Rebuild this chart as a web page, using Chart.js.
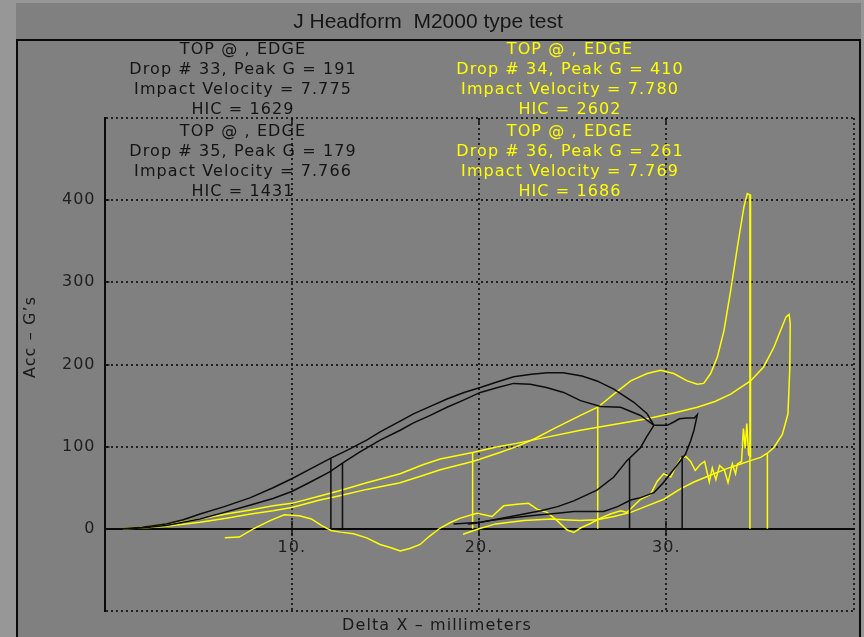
<!DOCTYPE html>
<html>
<head>
<meta charset="utf-8">
<script src="https://cdn.jsdelivr.net/npm/chart.js@4.4.1/dist/chart.umd.min.js"></script>
<style>
  html, body { margin: 0; padding: 0; background: #979797; }
  #wrap { width: 864px; height: 637px; }
</style>
</head>
<body>
<div id="wrap"><canvas id="c" width="864" height="637"></canvas></div>
<script>
// ---------- Text ----------
const chartTitle = 'J Headform  M2000 type test';
const xAxisTitle = 'Delta X – millimeters';
const yAxisTitle = 'Acc – G\u2019s';
const drop33Text = ['TOP @ , EDGE', 'Drop # 33, Peak G = 191', 'Impact Velocity = 7.775', 'HIC = 1629'];
const drop34Text = ['TOP @ , EDGE', 'Drop # 34, Peak G = 410', 'Impact Velocity = 7.780', 'HIC = 2602'];
const drop35Text = ['TOP @ , EDGE', 'Drop # 35, Peak G = 179', 'Impact Velocity = 7.766', 'HIC = 1431'];
const drop36Text = ['TOP @ , EDGE', 'Drop # 36, Peak G = 261', 'Impact Velocity = 7.769', 'HIC = 1686'];

// ---------- Tick labels ----------
const xTickValues = [10, 20, 30];
const xTickLabels = ['10.', '20.', '30.'];
const yTickValues = [0, 100, 200, 300, 400];
const yTickLabels = ['0', '100', '200', '300', '400'];

// ---------- Drop 33 (black, peak 191) ----------
const drop33X = [1.0, 2.0, 3.3, 4.2, 5.1, 6.4, 7.8, 9.0, 10.0, 11.0, 12.09, 13.0, 14.0, 14.72, 15.79, 16.5, 17.4, 18.29, 19.2, 20.07, 21.0, 21.85, 22.8, 23.64, 24.5, 25.5, 26.3, 27.2, 28.27, 28.98, 29.34,
                 28.95, 28.63, 27.9, 27.2, 26.3, 25.06, 24.2, 23.3, 22.4, 21.5, 20.07, 18.64];
const drop33Y = [0, 2, 6, 11, 18, 27, 38, 50, 61, 73, 86, 96, 108, 118, 131, 140, 149, 158, 166, 172, 179, 185, 188, 190, 190, 186, 180, 170, 154, 140, 126,
                 112, 99, 83, 63, 47, 34, 27, 22, 18, 14, 8, 6];

// ---------- Drop 35 (black, peak 179) ----------
const drop35X = [1.0, 2.0, 3.3, 4.2, 5.1, 6.4, 7.8, 9.0, 10.0, 11.0, 12.0, 12.71, 13.6, 14.72, 15.79, 16.5, 17.4, 18.29, 19.2, 20.07, 21.0, 21.85, 22.74, 23.6, 24.52, 25.42, 26.49, 27.56, 28.63, 29.34,
                 30.05, 30.4, 30.7, 31.1, 31.5, 31.66, 31.48, 31.3, 31.03, 30.6, 30.22, 29.8, 29.34, 28.63, 28.1, 27.4, 26.66, 25.9, 25.06, 24.2, 23.3, 22.4, 21.5, 20.6, 19.71, 19.4];
const drop35Y = [0, 1, 4, 8, 12, 20, 29, 37, 45.5, 57, 69, 80, 93, 108, 120, 129, 138, 148, 157, 166, 172, 177, 176, 172, 166, 156, 149, 148, 138, 126,
                 126, 130, 134, 135, 135, 139, 120, 107, 91, 78, 67, 55, 44, 38, 35, 27, 21, 21, 21, 19, 17, 15, 13, 10, 6.5, 6];

// ---------- Drop 34 (yellow, peak 410) ----------
const drop34X = [1.0, 2.0, 3.3, 5.1, 6.5, 7.8, 9.0, 10.0, 11.5, 12.5, 14.0, 15.79, 17.0, 17.93, 19.66, 21.0, 22.0, 23.0, 24.0, 25.42, 26.34, 27.2, 28.1, 28.98, 29.7, 30.4, 31.12, 31.66, 32.0, 32.37, 32.73, 33.08, 33.44, 33.8, 34.15, 34.33, 34.5,
                 34.5, 34.4, 34.3, 34.22, 34.12, 34.02, 33.8, 33.7, 33.53, 33.3, 33.1, 32.85, 32.65, 32.46, 32.3, 32.05, 31.8, 31.55, 31.3, 31.05, 30.8, 30.5, 30.24, 29.87, 29.52, 29.16, 28.63, 27.9, 27.56, 27.02, 26.49, 25.95, 25.42, 25.06, 24.71, 24.17, 23.64, 23.1, 22.65, 22.03, 21.32, 20.7, 19.89, 19.0, 18.5, 17.93, 17.3, 16.86, 16.3, 15.79, 15.3, 14.72, 14.0, 13.3, 12.6, 12.1, 11.6, 11.05, 10.4, 9.6, 8.84, 7.95, 7.2, 6.42];
const drop34Y = [0, 1, 3, 8, 13, 18, 22, 26, 35, 40, 48, 56, 65, 72, 82, 92, 100, 110, 122, 138, 148, 164, 180, 189, 193, 189, 180, 176, 177, 189, 209, 241, 290, 343, 392, 408, 406,
                 88, 90, 128, 98, 122, 82, 79, 67, 79, 56, 72, 77, 60, 74, 57, 82, 78, 71, 82, 88, 86, 75, 63, 67, 58, 42, 36, 20, 22, 18, 13, 6.5, 1, -4.5, -1.5, 10, 20, 24, 31, 30, 28, 15, 19, 13, 8, 1, -10, -19, -24, -27, -23, -19, -11, -6, -4, -2, 4, 12, 16, 17, 10, 0, -10, -11];

// ---------- Drop 36 (yellow, peak 261) ----------
const drop36X = [1.0, 2.0, 3.3, 5.1, 6.5, 7.8, 9.0, 10.0, 11.5, 12.5, 14.0, 15.79, 17.0, 17.93, 19.66, 21.0, 22.0, 23.5, 25.42, 27.2, 28.98, 30.4, 31.66, 32.6, 33.44, 34.5, 35.2, 35.75, 36.1, 36.4, 36.56,
                 36.62, 36.6, 36.5, 36.2, 35.75, 35.4, 35.04, 34.5, 33.97, 33.2, 32.55, 31.48, 30.78, 29.87, 28.98, 28.1, 27.2, 26.3, 25.4, 24.5, 23.87, 22.4, 20.9, 20.0, 19.15];
const drop36Y = [0, 2, 5, 12, 18, 23, 28, 31, 40, 46, 56, 67, 78, 85, 93, 100, 104, 111, 120, 127, 134, 141, 148, 155, 164, 180, 197, 221, 241, 258, 261,
                 250, 197, 140, 115, 99, 92, 87, 83, 79, 73, 67, 57, 49, 36, 28, 20, 15, 11, 10, 11, 12, 10, 6, 0, -6.5];

// ---------- HIC window markers ----------
const hicBlackX = [12.09, 12.71, 28.04, 30.85];
const hicBlackTop = [86, 80, 86, 89];
const hicYellowX = [19.66, 26.34, 34.47, 35.4];
const hicYellowTop = [93, 148, 406, 92];

// ---------- Helpers ----------
const BLACK = '#0c0c0c';
const YELLOW = '#ffff00';
const GRID = '#222222';
const DASH = [2, 3];
function pts(xs, ys) { return xs.map((x, i) => ({ x: x, y: ys[i] })); }
function markers(xs, tops) {
  const out = [];
  xs.forEach((x, i) => { out.push({ x: x, y: 0 }, { x: x, y: tops[i] }, { x: x, y: null }); });
  return out;
}
function lineDs(label, data, color, w) {
  return { label: label, data: data, showLine: true, borderColor: color, backgroundColor: color,
           borderWidth: w, pointRadius: 0, tension: 0, spanGaps: false };
}

const framePlugin = {
  id: 'frame',
  beforeDraw(chart) {
    const c = chart.ctx, W = chart.width, H = chart.height;
    c.save();
    c.fillStyle = '#979797'; c.fillRect(0, 0, W, H);
    c.fillStyle = '#808080'; c.fillRect(16, 3, 845, H - 3);
    c.strokeStyle = '#0a0a0a'; c.lineWidth = 2;
    c.beginPath(); c.moveTo(16, 40); c.lineTo(861, 40); c.stroke();
    c.beginPath(); c.moveTo(17, 40); c.lineTo(17, H); c.moveTo(860, 40); c.lineTo(860, H); c.stroke();
    c.fillStyle = '#161616';
    c.font = '21px "Liberation Sans", Arial, sans-serif';
    c.textAlign = 'center'; c.textBaseline = 'middle';
    c.fillText(chartTitle, 428, 22);
    c.restore();
    try { c.letterSpacing = '1px'; } catch (e) {}
  },
  beforeDatasetsDraw(chart) {
    const c = chart.ctx, a = chart.chartArea, xs = chart.scales.x, ys = chart.scales.y;
    c.save();
    c.strokeStyle = '#111'; c.lineWidth = 1.5;
    const y0 = ys.getPixelForValue(0);
    xTickValues.forEach(v => {
      const px = Math.round(xs.getPixelForValue(v));
      c.beginPath(); c.moveTo(px, y0 - 8); c.lineTo(px, y0); c.stroke();
      c.beginPath(); c.moveTo(px, a.top); c.lineTo(px, a.top + 5); c.stroke();
    });
    yTickValues.forEach(v => {
      const py = Math.round(ys.getPixelForValue(v));
      c.beginPath(); c.moveTo(a.left, py); c.lineTo(a.left + 5, py); c.stroke();
    });
    c.restore();
  },
  afterDraw(chart) {
    const c = chart.ctx;
    c.save();
    try { c.letterSpacing = '1.1px'; } catch (e) {}
    c.font = '16px "DejaVu Sans", sans-serif';
    c.textAlign = 'center'; c.textBaseline = 'middle';
    const blocks = [
      [drop33Text, 243, 50, '#141414'], [drop34Text, 570, 50, YELLOW],
      [drop35Text, 243, 132, '#141414'], [drop36Text, 570, 132, YELLOW]
    ];
    blocks.forEach(([lines, cx, y0, col]) => {
      c.fillStyle = col;
      lines.forEach((t, i) => c.fillText(t, cx, y0 + i * 20));
    });
    c.fillStyle = '#1a1a1a';
    c.fillText(xAxisTitle, 437, 626);
    c.translate(31, 337); c.rotate(-Math.PI / 2);
    c.fillText(yAxisTitle, 0, 0);
    c.restore();
  }
};

new Chart(document.getElementById('c'), {
  type: 'scatter',
  data: {
    datasets: [
      lineDs('Drop 33', pts(drop33X, drop33Y), BLACK, 1.5),
      lineDs('Drop 35', pts(drop35X, drop35Y), BLACK, 1.5),
      lineDs('HIC black', markers(hicBlackX, hicBlackTop), BLACK, 1.5),
      lineDs('Drop 34', pts(drop34X, drop34Y), YELLOW, 1.5),
      lineDs('Drop 36', pts(drop36X, drop36Y), YELLOW, 1.5),
      lineDs('HIC yellow', markers(hicYellowX, hicYellowTop), YELLOW, 1.5)
    ]
  },
  options: {
    responsive: false,
    animation: false,
    events: [],
    layout: { padding: { top: 118, right: 10.5, bottom: 26, left: 0 } },
    plugins: { legend: { display: false }, tooltip: { enabled: false }, title: { display: false } },
    scales: {
      x: {
        type: 'linear', min: 0, max: 40, position: { y: 0 },
        ticks: {
          stepSize: 10, autoSkip: false, maxRotation: 0, padding: 3, color: '#1e1e1e',
          font: { family: '"DejaVu Sans", sans-serif', size: 16 },
          callback: (v) => { const i = xTickValues.indexOf(v); return i >= 0 ? xTickLabels[i] : ''; }
        },
        grid: {
          color: GRID, lineWidth: 2, drawTicks: true, tickLength: 6, tickWidth: 1.5,
          tickColor: (ctx) => (ctx.tick && xTickValues.indexOf(ctx.tick.value) >= 0) ? '#111' : 'rgba(0,0,0,0)'
        },
        border: { display: true, color: '#0a0a0a', width: 2, dash: DASH }
      },
      y: {
        type: 'linear', min: -100, max: 500, position: 'left',
        afterFit: (s) => { s.width = 104.5; },
        ticks: {
          stepSize: 100, autoSkip: false, padding: 9, color: '#1e1e1e',
          font: { family: '"DejaVu Sans", sans-serif', size: 16 },
          callback: (v) => { const i = yTickValues.indexOf(v); return i >= 0 ? yTickLabels[i] : ''; }
        },
        grid: { color: GRID, lineWidth: 2, drawTicks: false },
        border: { display: true, color: '#0a0a0a', width: 2, dash: DASH }
      }
    }
  },
  plugins: [framePlugin]
});
</script>
</body>
</html>
